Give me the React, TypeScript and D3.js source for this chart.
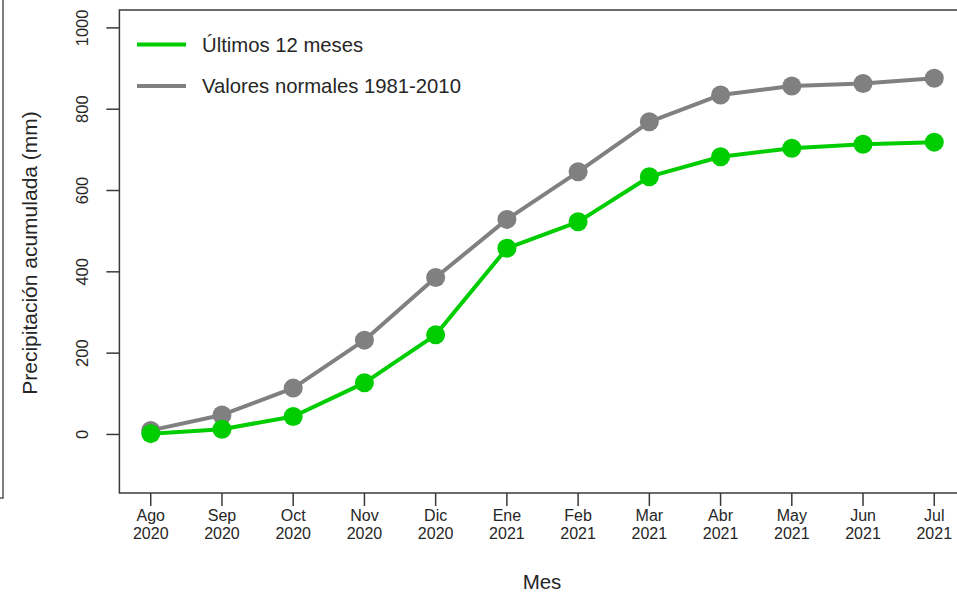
import { useEffect, useRef } from 'react';
import * as d3 from 'd3';

const months = ['Ago', 'Sep', 'Oct', 'Nov', 'Dic', 'Ene', 'Feb', 'Mar', 'Abr', 'May', 'Jun', 'Jul'];
const years = ['2020', '2020', '2020', '2020', '2020', '2021', '2021', '2021', '2021', '2021', '2021', '2021'];
const ultimos = [2, 13, 44, 127, 245, 458, 523, 634, 683, 704, 714, 719];
const normales = [10, 48, 114, 232, 386, 529, 646, 769, 835, 857, 863, 876];
const yTicks = [0, 200, 400, 600, 800, 1000];

const W = 957;
const H = 593;
const FONT = '"Liberation Sans", Arial, sans-serif';
const TXT = '#262626';
const AXIS = '#3a3a3a';

export default function App() {
  const svgRef = useRef<SVGSVGElement>(null);

  useEffect(() => {
    if (!svgRef.current) return;
    const svg = d3.select(svgRef.current);
    svg.selectAll('*').remove();

    const plot = { left: 119.4, right: 965.6, top: 10, bottom: 493 };

    // R style: 4% padding around the data / ylim
    const x = d3.scaleLinear().domain([-0.44, 11.44]).range([plot.left, plot.right]);
    const y = d3.scaleLinear().domain([-144, 1044]).range([plot.bottom, plot.top]);

    svg.append('rect').attr('width', W).attr('height', H).attr('fill', '#fff');

    // leftover frame at far left
    svg.append('path')
      .attr('d', `M3,0 V498 H0`)
      .attr('fill', 'none')
      .attr('stroke', '#555')
      .attr('stroke-width', 1.5);

    // plot box
    svg.append('rect')
      .attr('x', plot.left)
      .attr('y', plot.top)
      .attr('width', plot.right - plot.left)
      .attr('height', plot.bottom - plot.top)
      .attr('fill', 'none')
      .attr('stroke', AXIS)
      .attr('stroke-width', 1.5);

    // y axis
    const ya = svg.append('g');
    yTicks.forEach(t => {
      ya.append('line')
        .attr('x1', plot.left - 13).attr('x2', plot.left)
        .attr('y1', y(t)).attr('y2', y(t))
        .attr('stroke', AXIS).attr('stroke-width', 1.5);
      ya.append('text')
        .attr('transform', `translate(82,${y(t)}) rotate(-90)`)
        .attr('text-anchor', 'middle')
        .attr('dy', '0.35em')
        .attr('font-size', 16.5)
        .attr('font-family', FONT)
        .attr('fill', TXT)
        .text(t);
    });

    // x axis
    const xa = svg.append('g');
    months.forEach((m, i) => {
      xa.append('line')
        .attr('x1', x(i)).attr('x2', x(i))
        .attr('y1', plot.bottom).attr('y2', plot.bottom + 13)
        .attr('stroke', AXIS).attr('stroke-width', 1.5);
      xa.append('text')
        .attr('x', x(i)).attr('y', 521)
        .attr('text-anchor', 'middle')
        .attr('font-size', 16)
        .attr('font-family', FONT)
        .attr('fill', TXT)
        .text(m);
      xa.append('text')
        .attr('x', x(i)).attr('y', 539)
        .attr('text-anchor', 'middle')
        .attr('font-size', 16)
        .attr('font-family', FONT)
        .attr('fill', TXT)
        .text(years[i]);
    });

    svg.append('text')
      .attr('x', 542).attr('y', 589)
      .attr('text-anchor', 'middle')
      .attr('font-size', 20.5)
      .attr('font-family', FONT)
      .attr('fill', TXT)
      .text('Mes');

    svg.append('text')
      .attr('transform', 'translate(30,253) rotate(-90)')
      .attr('text-anchor', 'middle')
      .attr('dy', '0.35em')
      .attr('font-size', 21)
      .attr('font-family', FONT)
      .attr('fill', TXT)
      .text('Precipitación acumulada (mm)');

    const series = [
      { values: normales, color: '#808080' },
      { values: ultimos, color: '#00CD00' },
    ];

    const line = d3.line<number>().x((_, i) => x(i)).y(d => y(d));

    series.forEach(s => {
      svg.append('path')
        .attr('d', line(s.values))
        .attr('fill', 'none')
        .attr('stroke', s.color)
        .attr('stroke-width', 4)
        .attr('stroke-linejoin', 'round');
      svg.append('g')
        .selectAll('circle')
        .data(s.values)
        .join('circle')
        .attr('cx', (_, i) => x(i))
        .attr('cy', d => y(d))
        .attr('r', 9.5)
        .attr('fill', s.color);
    });

    // legend
    const legend = [
      { label: 'Últimos 12 meses', color: '#00CD00', y: 44.5 },
      { label: 'Valores normales 1981-2010', color: '#808080', y: 86 },
    ];
    legend.forEach(l => {
      svg.append('line')
        .attr('x1', 137).attr('x2', 186)
        .attr('y1', l.y).attr('y2', l.y)
        .attr('stroke', l.color)
        .attr('stroke-width', 4);
      svg.append('text')
        .attr('x', 202).attr('y', l.y)
        .attr('dy', '0.35em')
        .attr('font-size', 20.3)
        .attr('font-family', FONT)
        .attr('fill', TXT)
        .text(l.label);
    });
  }, []);

  return (
    <div style={{ position: 'fixed', left: 0, top: 0 }}>
      <svg ref={svgRef} width={W} height={H} style={{ display: 'block' }} />
    </div>
  );
}
